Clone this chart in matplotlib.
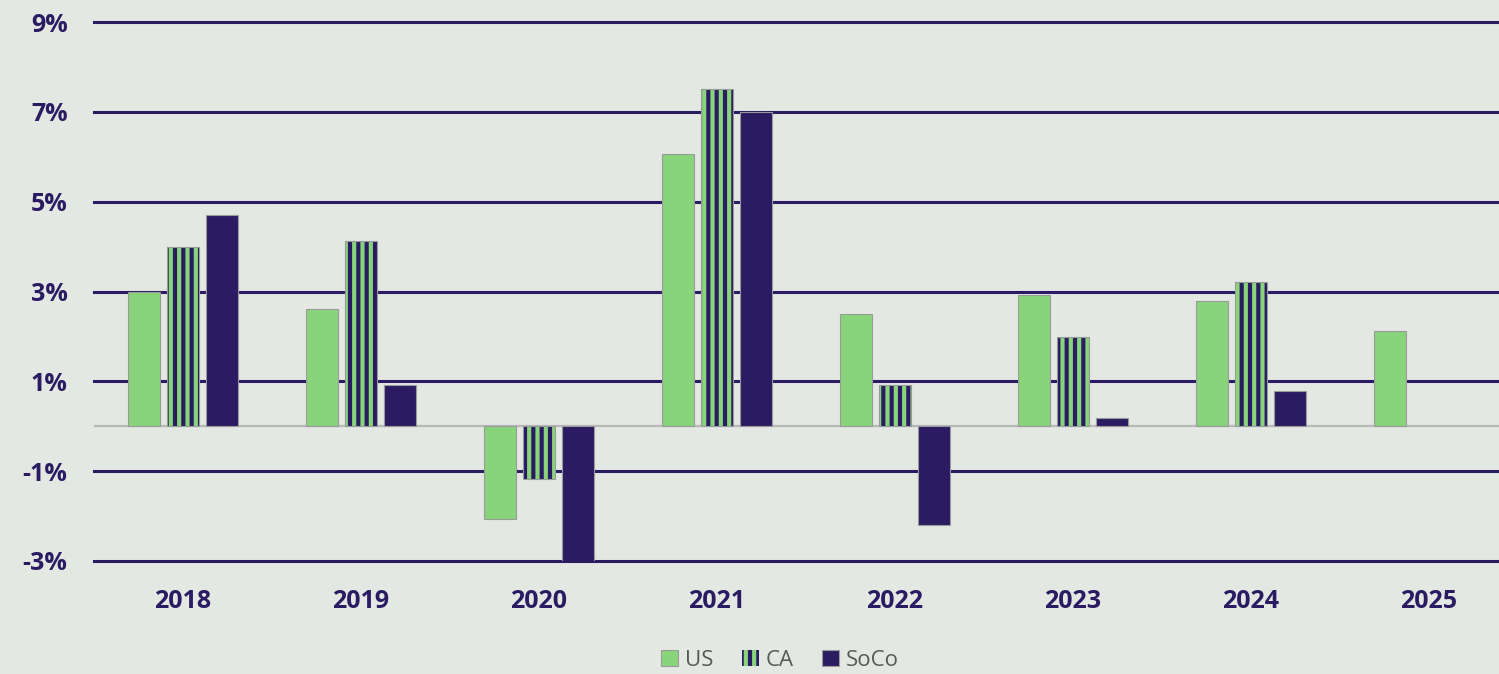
import numpy as np
import matplotlib
matplotlib.use("Agg")
import matplotlib.pyplot as plt
from matplotlib.patches import Patch

years = ["2018", "2019", "2020", "2021", "2022", "2023", "2024", "2025"]
us = [3.0, 2.6, -2.07, 6.07, 2.5, 2.92, 2.78, 2.11]
ca = [4.0, 4.13, -1.18, 7.5, 0.91, 1.98, 3.22, np.nan]
soco = [4.7, 0.91, -3.2, 7.0, -2.2, 0.18, 0.78, np.nan]
yticks = [-3, -1, 1, 3, 5, 7, 9]

BG = "#E3E8E3"
NAVY = "#2A1B63"
GREEN = "#88D47A"
EDGE = "#9A9A9A"

plt.rcParams["hatch.linewidth"] = 3.0
plt.rcParams["font.family"] = ["Open Sans", "DejaVu Sans"]

W, H = 1499, 674
fig = plt.figure(figsize=(W / 100, H / 100), dpi=100, facecolor=BG)
ax = fig.add_axes([94 / W, (H - 561) / H, 1424 / W, (561 - 22) / H])
ax.set_facecolor(BG)

x = np.arange(len(years))
bw = 0.18
step = 0.219

ax.bar(x - step, us, bw, color=GREEN, edgecolor=EDGE, linewidth=0.8, zorder=3)
ax.bar(x, ca, bw, color=NAVY, edgecolor=GREEN, hatch="||", linewidth=0, zorder=3)
ax.bar(x, ca, bw, fill=False, edgecolor=EDGE, linewidth=0.8, zorder=4)
ax.bar(x + step, soco, bw, color=NAVY, edgecolor=EDGE, linewidth=0.8, zorder=3)

for v in yticks:
    ax.axhline(v, color=NAVY, linewidth=2.2, zorder=1, clip_on=False)
ax.axhline(0, color="#B8B8B8", linewidth=1.6, zorder=2)

ax.set_xlim(-0.5, len(years) - 0.5)
ax.set_ylim(-3, 9)
ax.set_yticks(yticks)
ax.set_yticklabels([f"{v}%" for v in yticks])
ax.set_xticks(x)
ax.set_xticklabels(years)
ax.tick_params(length=0, labelsize=18, labelcolor=NAVY)
ax.tick_params(axis="y", pad=19)
ax.tick_params(axis="x", pad=20)
for lab in ax.get_xticklabels() + ax.get_yticklabels():
    lab.set_fontweight("bold")
for s in ax.spines.values():
    s.set_visible(False)

handles = [
    Patch(facecolor=GREEN, edgecolor=EDGE, linewidth=0.8),
    Patch(facecolor=NAVY, edgecolor=GREEN, hatch="||", linewidth=0),
    Patch(facecolor=NAVY, edgecolor=EDGE, linewidth=0.8),
]
fig.legend(handles, ["US", "CA", "SoCo"], loc="center",
           bbox_to_anchor=(780 / W, 1 - 660 / H), ncol=3, frameon=False,
           fontsize=16, labelcolor="#595959", handlelength=0.75,
           handleheight=0.75, handletextpad=0.3, columnspacing=1.3)

fig.savefig("out.png", dpi=100, facecolor=BG)
